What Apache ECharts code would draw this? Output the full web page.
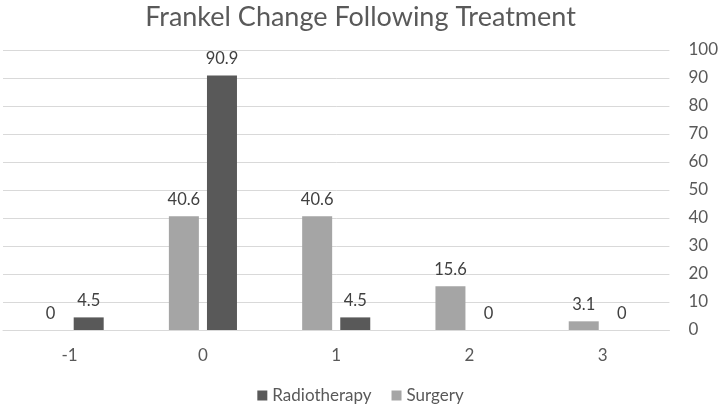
<!DOCTYPE html>
<html>
<head>
<meta charset="utf-8">
<script src="https://cdn.jsdelivr.net/npm/echarts@6/dist/echarts.min.js"></script>
<style>html,body{margin:0;padding:0;background:#fff}#c{width:721px;height:410px}</style>
</head>
<body>
<div id="c"></div>
<script>
var categories = ['-1', '0', '1', '2', '3'];
var surgery = [0, 40.6, 40.6, 15.6, 3.1];
var radiotherapy = [4.5, 90.9, 4.5, 0, 0];
var yTicks = {min: 0, max: 100, interval: 10};

var font = 'Lato, "Open Sans", sans-serif';
var chart = echarts.init(document.getElementById('c'));
var labelStyle = {show: true, position: 'top', distance: 8, color: '#404040', fontSize: 16.5, fontFamily: font};
chart.setOption({
  animation: false,
  title: {text: 'Frankel Change Following Treatment', left: 'center', top: -1,
    textStyle: {color: '#595959', fontSize: 27, fontWeight: 'normal', fontFamily: font}},
  legend: {data: ['Radiotherapy', 'Surgery'], bottom: 1, left: 'center', itemWidth: 10, itemHeight: 10, itemGap: 20,
    icon: 'rect', textStyle: {color: '#595959', fontSize: 17, fontFamily: font}},
  grid: {left: 3, right: 48, top: 50, bottom: 80, containLabel: false},
  xAxis: {type: 'category', data: categories,
    axisLine: {show: true, lineStyle: {color: '#d9d9d9', width: 1}},
    axisTick: {show: false},
    axisLabel: {color: '#595959', fontSize: 17, margin: 17, fontFamily: font}},
  yAxis: {type: 'value', position: 'right', min: yTicks.min, max: yTicks.max, interval: yTicks.interval,
    axisLine: {show: false}, axisTick: {show: false},
    splitLine: {lineStyle: {color: '#d9d9d9', width: 1}},
    axisLabel: {color: '#595959', fontSize: 17, margin: 19, fontFamily: font}},
  series: [
    {name: 'Surgery', type: 'bar', data: surgery, barWidth: 30, barGap: '27%',
      itemStyle: {color: '#a5a5a5'}, label: labelStyle},
    {name: 'Radiotherapy', type: 'bar', data: radiotherapy, barWidth: 30, barGap: '27%',
      itemStyle: {color: '#595959'}, label: labelStyle}
  ]
});
</script>
</body>
</html>
